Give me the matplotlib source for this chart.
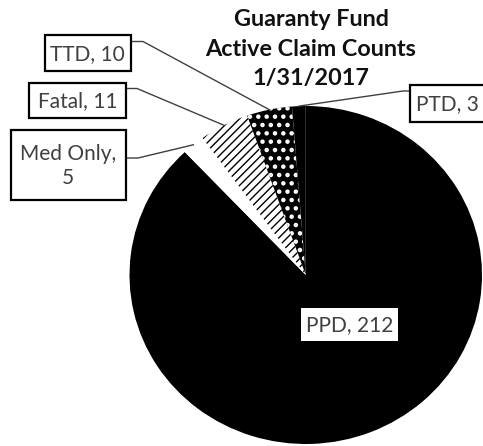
import numpy as np
import matplotlib
matplotlib.use("Agg")
import matplotlib.pyplot as plt
from matplotlib.patches import Rectangle

plt.rcParams['font.family'] = ['Lato', 'DejaVu Sans']
plt.rcParams['hatch.linewidth'] = 1.0

# Data
categories = ["PPD", "Med Only", "Fatal", "TTD", "PTD"]
values = [212, 5, 11, 10, 3]
title_lines = ["Guaranty Fund", "Active Claim Counts", "1/31/2017"]

W, H = 483, 446
fig = plt.figure(figsize=(W / 100, H / 100), dpi=100)

# pie axes (slightly elliptical as in reference)
px0, px1, py0, py1 = 129.5, 482, 106, 444
ax = fig.add_axes([px0 / W, 1 - py1 / H, (px1 - px0) / W, (py1 - py0) / H])
faces = ["black", "white", "white", "black", "black"]
hatches = [None, None, "////", "..", None]
hcols = ["black", "white", "black", "white", "black"]
hlw = [1, 1, 1.0, 2.0, 1]
wedges, _ = ax.pie(values, startangle=90, counterclock=False, radius=1,
                   colors=faces, wedgeprops=dict(linewidth=0))
for w, h, hc, lw in zip(wedges, hatches, hcols, hlw):
    if h:
        w.set_hatch(h)
        w.set_edgecolor(hc)
        w.set_linewidth(0)
        try:
            w.set_hatch_linewidth(lw)
        except Exception:
            pass
ax.set_aspect('auto')
ax.set_xlim(-1, 1)
ax.set_ylim(-1, 1)
ax.axis('off')

# overlay in pixel coords
ov = fig.add_axes([0, 0, 1, 1], zorder=5)
ov.set_xlim(0, W)
ov.set_ylim(H, 0)
ov.axis('off')
ov.patch.set_alpha(0)

def anchor(w, r=1.0):
    ang = np.deg2rad((w.theta1 + w.theta2) / 2)
    p = ax.transData.transform((r * np.cos(ang), r * np.sin(ang)))
    return ov.transData.inverted().transform(p)

# Title
for i, t in enumerate(title_lines):
    ov.text(311, 19 + 30 * i, t, ha='center', va='center', fontsize=16.8,
            fontweight='bold', color='#111111')

txtc = '#404040'
lc = '#404040'
fs = 15

# label boxes: (x0, y0, x1, y1)
boxes = {
    "TTD": (45, 35, 130.5, 71),
    "Fatal": (28.5, 83, 126, 118),
    "Med Only": (10.5, 130, 126, 200),
    "PTD": (410, 85, 490, 121.5),
}
texts = {
    "TTD": "TTD, 10",
    "Fatal": "Fatal, 11",
    "Med Only": "Med Only,\n5",
    "PTD": "PTD, 3",
}
for k, (x0, y0, x1, y1) in boxes.items():
    ov.add_patch(Rectangle((x0, y0), x1 - x0, y1 - y0, facecolor='white',
                           edgecolor='black', linewidth=1.6, zorder=3))
    cx = (x0 + x1) / 2 if k != "PTD" else 447
    ov.text(cx, (y0 + y1) / 2 + 1, texts[k], ha='center', va='center',
            fontsize=fs, color=txtc, linespacing=1.3, zorder=4)

# leader lines
idx = {c: i for i, c in enumerate(categories)}
legs = {
    "TTD": ((130.5, 41.5), 143),
    "Fatal": ((126, 88.5), 137),
    "Med Only": ((126, 158), 138),
}
for k, ((bx, by), hx) in legs.items():
    axp, ayp = anchor(wedges[idx[k]])
    ov.plot([bx, hx, axp], [by, by, ayp], color=lc, linewidth=1.0, zorder=2)
axp, ayp = anchor(wedges[idx["PTD"]])
ov.plot([410, 403, axp], [91, 91, ayp], color=lc, linewidth=1.0, zorder=2)

# PPD label inside
ov.add_patch(Rectangle((301, 308), 97, 33, facecolor='white', edgecolor='none', zorder=3))
ov.text(349.5, 325.5, "PPD, 212", ha='center', va='center', fontsize=fs,
        color=txtc, zorder=4)

fig.savefig("out.png", dpi=100)
